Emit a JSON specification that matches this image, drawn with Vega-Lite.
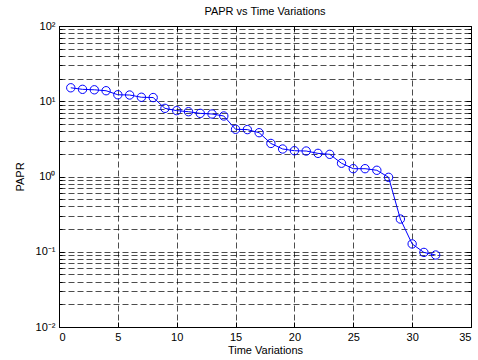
{
  "$schema": "https://vega.github.io/schema/vega-lite/v6.json",
  "width": 412,
  "height": 301,
  "autosize": {"type": "none"},
  "padding": {"left": 59, "top": 26, "right": 7, "bottom": 33},
  "background": "white",
  "config": {
    "view": {"stroke": "black", "strokeWidth": 1},
    "font": "Liberation Sans",
    "axis": {
      "labelFont": "Liberation Sans",
      "titleFont": "Liberation Sans",
      "labelFontSize": 11,
      "titleFontSize": 11,
      "titleFontWeight": "normal",
      "labelColor": "black",
      "titleColor": "black",
      "domain": false,
      "tickColor": "black",
      "gridColor": "black",
      "gridOpacity": 1,
      "gridWidth": 0.7,
      "gridDash": [6, 3]
    }
  },
  "title": {
    "text": "PAPR vs Time Variations",
    "font": "Liberation Sans",
    "fontSize": 11,
    "fontWeight": "normal",
    "color": "black",
    "frame": "group",
    "anchor": "middle",
    "offset": 3
  },
  "data": {
    "values": [
      {"t": 1, "papr": 15.1},
      {"t": 2, "papr": 14.4},
      {"t": 3, "papr": 14.2},
      {"t": 4, "papr": 13.8},
      {"t": 5, "papr": 12.2},
      {"t": 6, "papr": 12.1},
      {"t": 7, "papr": 11.3},
      {"t": 8, "papr": 11.2},
      {"t": 9, "papr": 8.05},
      {"t": 10, "papr": 7.5},
      {"t": 11, "papr": 7.26},
      {"t": 12, "papr": 6.9},
      {"t": 13, "papr": 6.77},
      {"t": 14, "papr": 6.37},
      {"t": 15, "papr": 4.24},
      {"t": 16, "papr": 4.2},
      {"t": 17, "papr": 3.82},
      {"t": 18, "papr": 2.75},
      {"t": 19, "papr": 2.32},
      {"t": 20, "papr": 2.2},
      {"t": 21, "papr": 2.18},
      {"t": 22, "papr": 2.03},
      {"t": 23, "papr": 1.97},
      {"t": 24, "papr": 1.5},
      {"t": 25, "papr": 1.27},
      {"t": 26, "papr": 1.27},
      {"t": 27, "papr": 1.21},
      {"t": 28, "papr": 0.975},
      {"t": 29, "papr": 0.272},
      {"t": 30, "papr": 0.127},
      {"t": 31, "papr": 0.098},
      {"t": 32, "papr": 0.0905}
    ]
  },
  "layer": [
    {
      "mark": {"type": "line", "color": "#0000ff", "strokeWidth": 1},
      "encoding": {
        "x": {
          "field": "t", "type": "quantitative",
          "scale": {"domain": [0, 35], "nice": false, "zero": false},
          "axis": {
            "orient": "bottom",
            "title": "Time Variations",
            "values": [0, 5, 10, 15, 20, 25, 30, 35],
            "tickSize": -5,
            "labelPadding": 9,
            "titlePadding": 2
          }
        },
        "y": {
          "field": "papr", "type": "quantitative",
          "scale": {"type": "log", "domain": [0.01, 100], "nice": false},
          "axis": {
            "orient": "left",
            "title": "PAPR",
            "titlePadding": 10,
            "values": [0.01,0.02,0.03,0.04,0.05,0.06,0.07,0.08,0.09,0.1,0.2,0.3,0.4,0.5,0.6,0.7,0.8,0.9,1,2,3,4,5,6,7,8,9,10,20,30,40,50,60,70,80,90,100],
            "labelOverlap": false,
            "labelPadding": 9,
            "labelExpr": "datum.value == 100 ? '10²' : datum.value == 10 ? '10¹' : datum.value == 1 ? '10⁰' : datum.value == 0.1 ? '10⁻¹' : datum.value == 0.01 ? '10⁻²' : ''",
            "tickSize": {"condition": {"test": "indexof([0.01,0.1,1,10,100], datum.value) >= 0", "value": -5}, "value": -3}
          }
        }
      }
    },
    {
      "mark": {"type": "point", "shape": "circle", "filled": false, "color": "#0000ff", "size": 70, "strokeWidth": 1, "opacity": 1},
      "encoding": {
        "x": {
          "field": "t", "type": "quantitative",
          "axis": {"orient": "top", "title": null, "labels": false, "grid": false, "values": [0, 5, 10, 15, 20, 25, 30, 35], "tickSize": -5}
        },
        "y": {
          "field": "papr", "type": "quantitative",
          "axis": {
            "orient": "right", "title": null, "labels": false, "grid": false,
            "values": [0.01,0.02,0.03,0.04,0.05,0.06,0.07,0.08,0.09,0.1,0.2,0.3,0.4,0.5,0.6,0.7,0.8,0.9,1,2,3,4,5,6,7,8,9,10,20,30,40,50,60,70,80,90,100],
            "tickSize": {"condition": {"test": "indexof([0.01,0.1,1,10,100], datum.value) >= 0", "value": -5}, "value": -3}
          }
        }
      }
    }
  ],
  "resolve": {"axis": {"x": "independent", "y": "independent"}}
}
